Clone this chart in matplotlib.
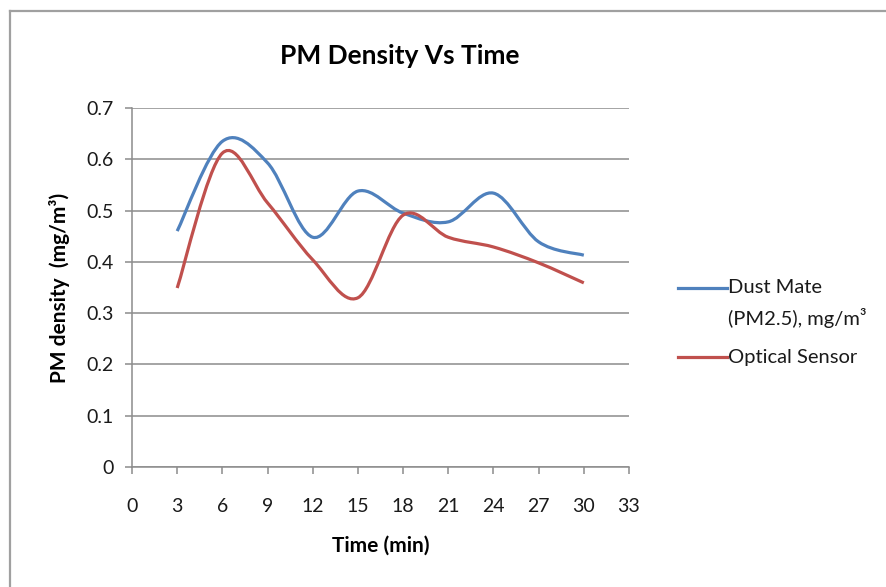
import numpy as np
import matplotlib
matplotlib.use('Agg')
import matplotlib.pyplot as plt
from matplotlib.path import Path
from matplotlib.patches import PathPatch
from matplotlib.lines import Line2D

plt.rcParams['font.family'] = ['Lato', 'DejaVu Sans']

# readings every 3 minutes
time_min = [3, 6, 9, 12, 15, 18, 21, 24, 27, 30]
dust_mate = [0.46, 0.635, 0.593, 0.448, 0.538, 0.495, 0.478, 0.534, 0.439, 0.413]
optical = [0.349, 0.612, 0.515, 0.404, 0.33, 0.491, 0.448, 0.429, 0.398, 0.359]

x_ticks = list(range(0, 34, 3))
y_ticks = [0, 0.1, 0.2, 0.3, 0.4, 0.5, 0.6, 0.7]

series_names = ['Dust Mate\n(PM2.5), mg/m³', 'Optical Sensor']
series_colors = ['#4F81BD', '#C0504D']


def smooth_path(xs, ys):
    # excel-like smoothed line: cubic bezier, catmull-rom style control points
    p = np.column_stack([xs, ys]).astype(float)
    n = len(p)
    verts = [p[0]]
    codes = [Path.MOVETO]
    for i in range(n - 1):
        prev = p[i - 1] if i > 0 else p[i]
        nxt = p[i + 2] if i + 2 < n else p[i + 1]
        c1 = p[i] + (p[i + 1] - prev) / 6.0
        c2 = p[i + 1] - (nxt - p[i]) / 6.0
        verts += [c1, c2, p[i + 1]]
        codes += [Path.CURVE4] * 3
    return Path(verts, codes)


fig = plt.figure(figsize=(8.86, 5.87), dpi=100)
ax = fig.add_axes([132 / 886, 1 - 467 / 587, (629 - 132) / 886, (467 - 108) / 587])

for ys, col in zip([dust_mate, optical], series_colors):
    patch = PathPatch(smooth_path(time_min, ys), facecolor='none', edgecolor=col,
                      lw=2.3, capstyle='butt', zorder=3)
    ax.add_patch(patch)

ax.set_xlim(0, 33)
ax.set_ylim(0, 0.7)
ax.set_xticks(x_ticks)
ax.set_yticks(y_ticks)
ax.set_yticklabels(['0' if v == 0 else f'{v:.1f}' for v in y_ticks])
ax.grid(axis='y', color='#8c8c8c', lw=1.1)
ax.set_axisbelow(True)
for s in ['top', 'right']:
    ax.spines[s].set_visible(False)
for s in ['left', 'bottom']:
    ax.spines[s].set_color('#8c8c8c')
    ax.spines[s].set_linewidth(1.1)
ax.tick_params(axis='both', direction='out', length=5, width=1.1, color='#8c8c8c',
               labelsize=14, labelcolor='#1a1a1a')
ax.tick_params(axis='x', pad=17)
ax.tick_params(axis='y', pad=8)

ax.set_xlabel('Time (min)', fontsize=15, fontweight='bold', labelpad=15)
ax.set_ylabel('PM density  (mg/m³)', fontsize=15, fontweight='bold', labelpad=12)

fig.text(400 / 886, 1 - 56 / 587, 'PM Density Vs Time', ha='center', va='center',
         fontsize=19, fontweight='bold')

# legend drawn by hand so the line sits on the first text line
legend_y = [288, 357]
for name, col, yp in zip(series_names, series_colors, legend_y):
    fy = 1 - yp / 587
    fig.add_artist(Line2D([678 / 886, 727 / 886], [fy, fy], color=col, lw=2.3,
                          transform=fig.transFigure))
    for k, line in enumerate(name.split('\n')):
        fig.text(728 / 886, 1 - (yp + 30 * k) / 587, line, ha='left', va='center',
                 fontsize=14.5, color='#1a1a1a')

# outer chart border (top and left only are visible)
fig.add_artist(Line2D([10 / 886, 1], [1 - 11 / 587, 1 - 11 / 587], color='#a0a0a0',
                      lw=1.6, transform=fig.transFigure))
fig.add_artist(Line2D([10 / 886, 10 / 886], [0, 1 - 11 / 587], color='#a0a0a0',
                      lw=1.6, transform=fig.transFigure))

fig.savefig('out.png', dpi=100)
